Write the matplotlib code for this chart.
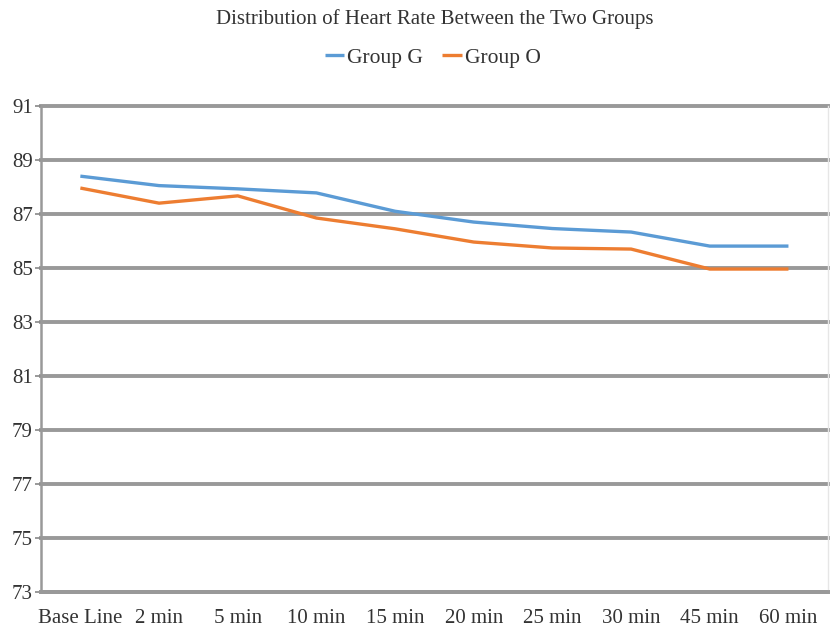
import matplotlib
matplotlib.use("Agg")
import matplotlib.pyplot as plt

categories = ["Base Line", "2 min", "5 min", "10 min", "15 min", "20 min",
              "25 min", "30 min", "45 min", "60 min"]
group_g = [88.4, 88.05, 87.93, 87.78, 87.1, 86.7, 86.46, 86.33, 85.81, 85.81]
group_o = [87.96, 87.4, 87.67, 86.85, 86.45, 85.96, 85.74, 85.7, 84.96, 84.96]
yticks = [73, 75, 77, 79, 81, 83, 85, 87, 89, 91]

plt.rcParams['font.family'] = ['Liberation Serif', 'DejaVu Serif']

fig = plt.figure(figsize=(8.37, 6.28), dpi=100)
ax = fig.add_axes([0.049, 0.0573, 0.940, 0.7740])

x = list(range(len(categories)))
ax.plot(x, group_g, color='#5B9BD5', lw=2.4, label='Group G', solid_capstyle='butt')
ax.plot(x, group_o, color='#ED7D31', lw=2.4, label='Group O', solid_capstyle='butt')

ax.set_xlim(-0.5, len(categories) - 0.5)
ax.set_ylim(73, 91)
ax.set_yticks(yticks)
ax.set_xticks(x)
ax.set_xticklabels(categories, fontsize=15)
ax.tick_params(axis='y', labelsize=15, length=4, color='#888888', width=1.2, pad=2)
ax.tick_params(axis='x', length=0, pad=12)
ax.grid(axis='y', color='#999999', lw=2.8)
for gl in ax.get_ygridlines():
    gl.set_clip_on(False)
ax.set_axisbelow(True)
ax.spines['top'].set_visible(False)
ax.spines['right'].set_color('#e6e6e6')
ax.spines['right'].set_linewidth(1.0)
ax.spines['left'].set_color('#999999')
ax.spines['left'].set_linewidth(1.8)
ax.spines['bottom'].set_color('#999999')
ax.spines['bottom'].set_linewidth(2.8)
for lbl in ax.get_yticklabels() + ax.get_xticklabels():
    lbl.set_color('#333333')

fig.text(0.52, 0.97, "Distribution of Heart Rate Between the Two Groups",
         ha='center', va='center', fontsize=15, color='#333333')
fig.legend(loc='center', bbox_to_anchor=(0.517, 0.908), ncol=2, frameon=False,
           fontsize=15.5, handlelength=0.9, handletextpad=0.15, columnspacing=0.9,
           labelcolor='#333333')

fig.savefig("out.png", dpi=100, facecolor='white')
